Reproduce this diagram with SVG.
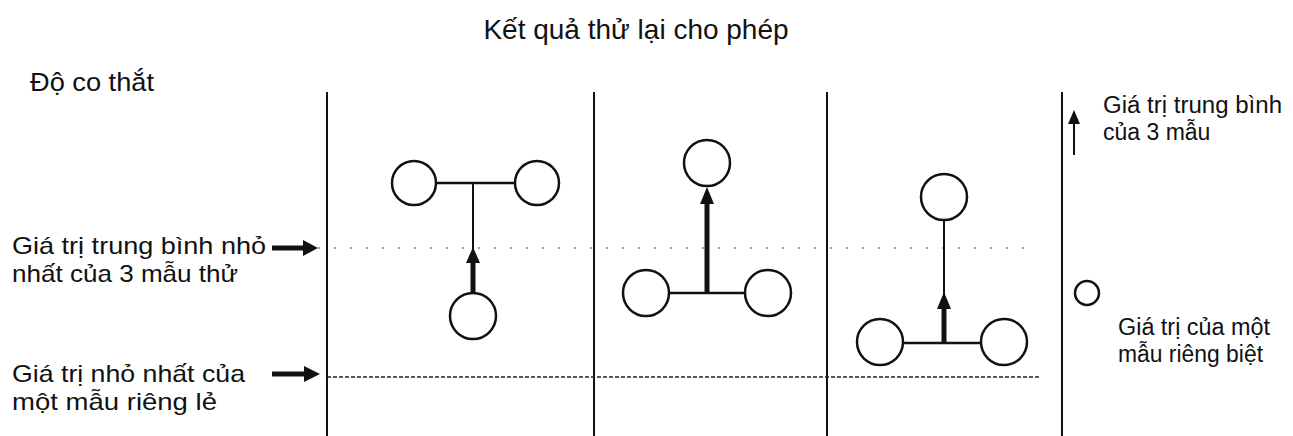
<svg xmlns="http://www.w3.org/2000/svg" width="1293" height="436" viewBox="0 0 1293 436">
<defs>
<style>
.t{font-family:"Liberation Sans",Arial,sans-serif;fill:#111;}
.v{stroke:#111;stroke-width:2;fill:none;}
.c{stroke:#111;stroke-width:2.5;fill:#fff;}
.h{stroke:#111;stroke-width:2.5;fill:none;}
.thin{stroke:#111;stroke-width:2;fill:none;}
.thick{stroke:#111;stroke-width:5;fill:none;}
.ah{fill:#111;stroke:none;}
</style>
</defs>
<rect width="1293" height="436" fill="#fff"/>
<g id="title"><text class="t" x="636" y="39" font-size="28" text-anchor="middle">Kết quả thử lại cho phép</text></g>
<g id="ylabel"><text class="t" x="30" y="91" font-size="25" textLength="124" lengthAdjust="spacingAndGlyphs">Độ co thắt</text></g>
<g id="axes">
<line class="v" x1="327" y1="92" x2="327" y2="436"/>
<line class="v" x1="594" y1="92" x2="594" y2="436"/>
<line class="v" x1="827" y1="92" x2="827" y2="436"/>
<line class="v" x1="1062" y1="92" x2="1062" y2="436"/>
</g>
<g id="reflines">
<line x1="318" y1="248" x2="1034" y2="248" stroke="#888" stroke-width="1.5" stroke-dasharray="2 14"/>
<line x1="327" y1="377" x2="1040" y2="377" stroke="#222" stroke-width="1.5" stroke-dasharray="4 2"/>
</g>
<g id="label-avg">
<text class="t" font-size="24"><tspan x="12" y="254" textLength="254" lengthAdjust="spacingAndGlyphs">Giá trị trung bình nhỏ</tspan><tspan x="12" y="282" textLength="226" lengthAdjust="spacingAndGlyphs">nhất của 3 mẫu thử</tspan></text>
<line class="thick" x1="272" y1="248" x2="305" y2="248"/>
<polygon class="ah" points="318,248 303,240 303,256"/>
</g>
<g id="label-min">
<text class="t" font-size="24"><tspan x="12" y="382" textLength="233" lengthAdjust="spacingAndGlyphs">Giá trị nhỏ nhất của</tspan><tspan x="12" y="410" textLength="205" lengthAdjust="spacingAndGlyphs">một mẫu riêng lẻ</tspan></text>
<line class="thick" x1="272" y1="374" x2="305" y2="374"/>
<polygon class="ah" points="320,374 304,366 304,382"/>
</g>
<g id="connectors">
<line class="h" x1="436" y1="183" x2="514" y2="183"/>
<line class="thin" x1="473" y1="183" x2="473" y2="250"/>
<line class="thick" x1="473" y1="260" x2="473" y2="293"/>
<polygon class="ah" points="473,247 466,263 480,263"/>
<line class="h" x1="669" y1="293" x2="745" y2="293"/>
<line class="thick" x1="707" y1="200" x2="707" y2="293"/>
<polygon class="ah" points="707,187 700,204 714,204"/>
<line class="h" x1="903" y1="343" x2="981" y2="343"/>
<line class="thin" x1="944" y1="220" x2="944" y2="296"/>
<line class="thick" x1="944" y1="305" x2="944" y2="343"/>
<polygon class="ah" points="944,292 937,309 951,309"/>
</g>
<g id="panel1">
<circle class="c" cx="414" cy="183" r="22"/>
<circle class="c" cx="537" cy="183" r="22"/>
<circle class="c" cx="473" cy="316" r="23"/>
</g>
<g id="panel2">
<circle class="c" cx="707" cy="163" r="23"/>
<circle class="c" cx="646" cy="293" r="23"/>
<circle class="c" cx="768" cy="293" r="23"/>
</g>
<g id="panel3">
<circle class="c" cx="944" cy="197" r="23"/>
<circle class="c" cx="880" cy="342" r="23"/>
<circle class="c" cx="1004" cy="342" r="23"/>
</g>
<g id="legend-avg">
<line class="thin" x1="1074" y1="120" x2="1074" y2="155"/>
<polygon class="ah" points="1074,110 1068,124 1080,124"/>
<text class="t" font-size="23"><tspan x="1103" y="113" textLength="179" lengthAdjust="spacingAndGlyphs">Giá trị trung bình</tspan><tspan x="1103" y="140">của 3 mẫu</tspan></text>
</g>
<g id="legend-ind">
<circle class="c" cx="1087" cy="293" r="12"/>
<text class="t" font-size="23"><tspan x="1118" y="335" textLength="152" lengthAdjust="spacingAndGlyphs">Giá trị của một</tspan><tspan x="1118" y="362" textLength="145" lengthAdjust="spacingAndGlyphs">mẫu riêng biệt</tspan></text>
</g>
</svg>
